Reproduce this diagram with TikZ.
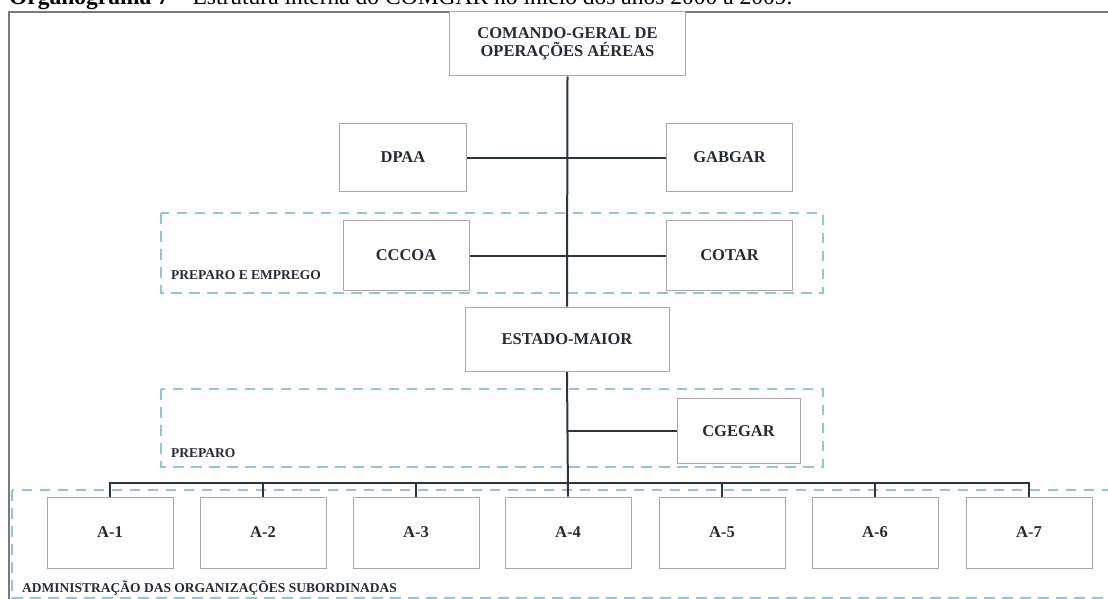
\documentclass[tikz,border=0pt]{standalone}
\usepackage{fontspec}
\setmainfont{Liberation Serif}
\pgfdeclarelayer{bgg}
\pgfdeclarelayer{bg}
\pgfsetlayers{bgg,bg,main}
\definecolor{boxline}{HTML}{A8A8A8}
\definecolor{conn}{HTML}{2B3540}
\definecolor{dash}{HTML}{8FC7DA}
\definecolor{txt}{HTML}{232B35}
\definecolor{frame}{HTML}{7A7A7A}
\tikzset{
  orgbox/.style={draw=boxline, line width=1pt, fill=white, rectangle, inner sep=0pt,
    text=txt, font=\fontsize{16.5}{18}\selectfont\bfseries, align=center},
  conline/.style={draw=conn, line width=2pt},
  grpbox/.style={draw=dash, line width=2.8pt, dash pattern=on 10.5pt off 7.5pt},
  grplabel/.style={anchor=base west, text=txt, font=\fontsize{13.5}{15}\selectfont\bfseries, inner sep=0pt},
}
\begin{document}
\begin{tikzpicture}[x=1pt,y=-1pt]
\useasboundingbox (0,0) rectangle (1108,599);
\clip (0,0) rectangle (1108,599);
% caption (cut off at top, as in the reference)
\node[anchor=base west, inner sep=0pt, font=\fontsize{23.5}{26}\selectfont, text=black] (cap) at (9,5)
  {\textbf{Organograma 7} – Estrutura interna do COMGAR no início dos anos 2000 a 2009.};
% outer frame
\draw[frame, line width=1.5pt] (9,610) -- (9,12) -- (1120,12);

% nodes
\node[orgbox, minimum width=236, minimum height=64] (cg) at (567.5,44)
  {COMANDO-GERAL DE\\OPERAÇÕES AÉREAS};
\node[orgbox, minimum width=127, minimum height=67] (dpaa) at (403,157.5) {DPAA};
\node[orgbox, minimum width=126, minimum height=67] (gab) at (729.5,157.5) {GABGAR};
\node[orgbox, minimum width=126, minimum height=70] (ccc) at (406,255.5) {CCCOA};
\node[orgbox, minimum width=126, minimum height=70] (cot) at (729.5,255.5) {COTAR};
\node[orgbox, minimum width=204, minimum height=64] (em) at (567,339) {ESTADO-MAIOR};
\node[orgbox, minimum width=123, minimum height=65] (cge) at (738.5,431) {CGEGAR};
\foreach \n/\x in {1/110,2/263,3/416,4/568,5/722,6/875,7/1029}{
  \node[orgbox, minimum width=126, minimum height=71] (a\n) at (\x,532.5) {A-\n};
}
\coordinate (busy) at (0,483);

% group labels
\node[grplabel] (l1) at (171,279) {PREPARO E EMPREGO};
\node[grplabel] (l2) at (171,457) {PREPARO};
\node[grplabel] (l3) at (22,592) {ADMINISTRAÇÃO DAS ORGANIZAÇÕES SUBORDINADAS};

% group frames
\begin{pgfonlayer}{bgg}
\draw[grpbox] (161,213) rectangle (823,293);
\draw[grpbox] (161,389) rectangle (823,467);
\draw[grpbox] (12,490) rectangle (1120,598);
\end{pgfonlayer}

% connectors
\begin{pgfonlayer}{bg}
\draw[conline] (cg.south) -- (em.north);
\draw[conline] (dpaa.east) -- (gab.west);
\draw[conline] (ccc.east) -- (cot.west);
\draw[conline] (em.south) -- (a4.north);
\draw[conline] (cge.west) -- (cge.west -| em.south);
\draw[conline] (a1.north) -- (a1.north |- busy) -- (a7.north |- busy) -- (a7.north);
\foreach \n in {2,3,5,6}{
  \draw[conline] (a\n.north) -- (a\n.north |- busy);
}
\end{pgfonlayer}
\end{tikzpicture}
\end{document}
